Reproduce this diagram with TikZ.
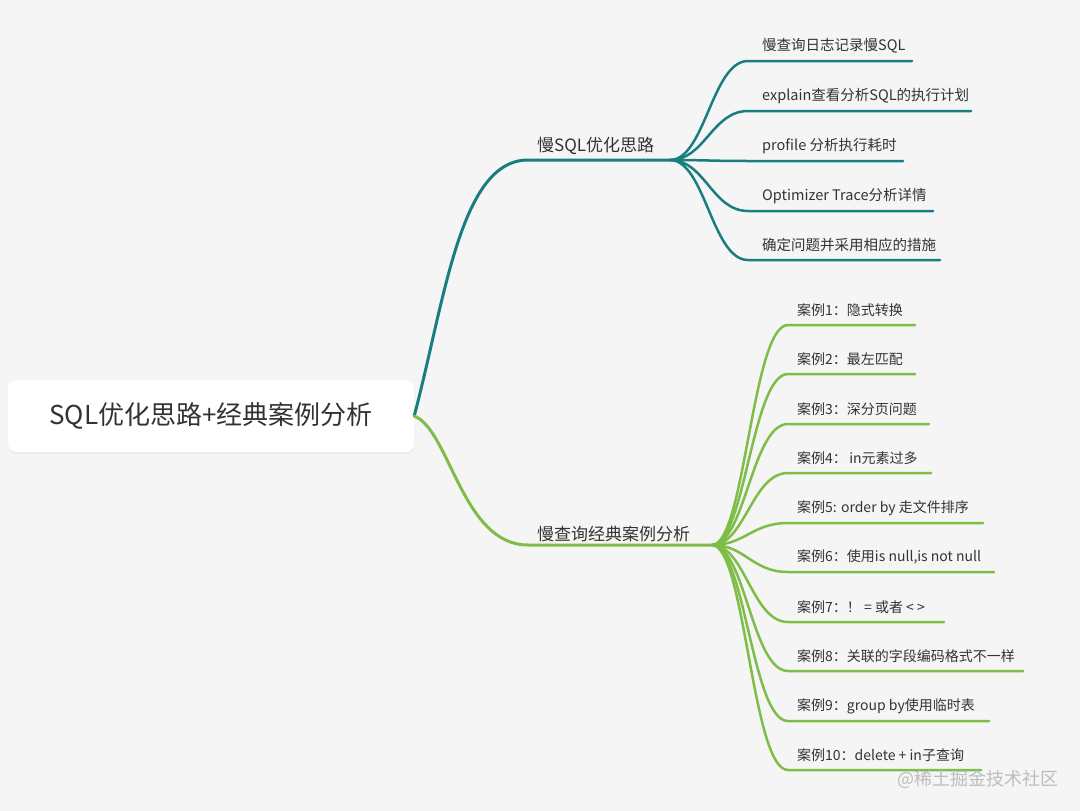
\documentclass[tikz,border=0pt]{standalone}
\usepackage{fontspec}
\setmainfont{Noto Sans CJK SC}
\usetikzlibrary{shadows}
\definecolor{bg}{HTML}{F5F5F5}
\definecolor{tealc}{HTML}{1A7E80}
\definecolor{greenc}{HTML}{7DBD48}
\definecolor{txt}{HTML}{333333}
\definecolor{wm}{HTML}{BDBDBD}
\tikzset{
  rootbox/.style={fill=white, rounded corners=8pt, minimum width=406pt, minimum height=72pt,
    inner sep=0pt, text=txt, font=\fontsize{26pt}{30pt}\selectfont,
    drop shadow={opacity=0.08, shadow xshift=0pt, shadow yshift=-2pt}},
  branchlbl/.style={anchor=west, inner sep=0pt, text=txt, font=\fontsize{17pt}{20pt}\selectfont},
  leaflbl/.style={anchor=west, inner sep=0pt, text=txt, font=\fontsize{14.5pt}{17pt}\selectfont},
  caselbl/.style={anchor=west, inner sep=0pt, text=txt, font=\fontsize{14pt}{17pt}\selectfont},
  tealtrunk/.style={draw=tealc, line width=3pt, line cap=round},
  tealleaf/.style={draw=tealc, line width=2.5pt, line cap=round},
  greentrunk/.style={draw=greenc, line width=3pt, line cap=round},
  greenleaf/.style={draw=greenc, line width=2.5pt, line cap=round},
  wmark/.style={anchor=west, inner sep=0pt, text=wm, font=\fontsize{18pt}{20pt}\selectfont}
}
\begin{document}
\begin{tikzpicture}[x=1pt,y=-1pt]
\fill[bg] (0,0) rectangle (1080,811);
\useasboundingbox (0,0) rectangle (1080,811);

% root
\node[rootbox] (root) at (211,416) {SQL优化思路+经典案例分析};

% branch 1
\coordinate (b1s) at (528,160);
\coordinate (b1j) at (670,160);
\draw[tealtrunk] (root.east) .. controls (445,300) and (460,160) .. (b1s) -- (b1j);
\node[branchlbl] (b1) at (537,146) {慢SQL优化思路};

\foreach \i/\y/\e/\t in {
  1/61/912/{慢查询日志记录慢SQL},
  2/111/971/{explain查看分析SQL的执行计划},
  3/161/903/{profile 分析执行耗时},
  4/211/933/{Optimizer Trace分析详情},
  5/260/940/{确定问题并采用相应的措施}}{
  \coordinate (t\i s) at (748,\y);
  \coordinate (t\i e) at (\e,\y);
  \draw[tealleaf] (b1j) .. controls (705,160) and (712,\y) .. (t\i s) -- (t\i e);
  \node[leaflbl] (t\i) at (762,\y-15) {\t};
}

% branch 2
\coordinate (b2s) at (528,545);
\coordinate (b2j) at (712,545);
\draw[greentrunk] (root.east) .. controls (450,430) and (462,545) .. (b2s) -- (b2j);
\node[branchlbl] (b2) at (537,534) {慢查询经典案例分析};

\foreach \i/\y/\e/\t in {
  1/325/915/{案例1：隐式转换},
  2/374/915/{案例2：最左匹配},
  3/424/929/{案例3：深分页问题},
  4/473/931/{案例4：\,in元素过多},
  5/523/983/{案例5: order by 走文件排序},
  6/572/994/{案例6：使用is null,is not null},
  7/622/944/{案例7：！ = 或者 < >},
  8/671/1023/{案例8：关联的字段编码格式不一样},
  9/721/989/{案例9：group by使用临时表},
  10/770/981/{案例10：delete + in子查询}}{
  \coordinate (c\i s) at (788,\y);
  \coordinate (c\i e) at (\e,\y);
  \draw[greenleaf] (b2j) .. controls (745,545) and (752,\y) .. (c\i s) -- (c\i e);
  \node[caselbl] (c\i) at (797,\y-15) {\t};
}

% watermark
\node[wmark] (wm) at (897,779) {@稀土掘金技术社区};
\end{tikzpicture}
\end{document}
